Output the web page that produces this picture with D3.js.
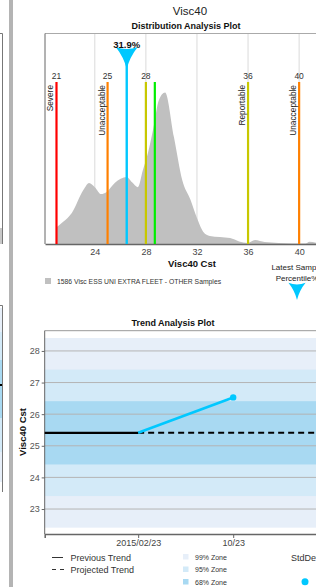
<!DOCTYPE html>
<html>
<head>
<meta charset="utf-8">
<script src="https://cdn.jsdelivr.net/npm/d3@7"></script>
<style>
  body { margin: 0; background: #fff; }
  text { font-family: "Liberation Sans", Arial, sans-serif; }
</style>
</head>
<body>
<div id="chart"></div>
<script>
// Datos de la distribución (Visc40 Cst vs densidad relativa)
const distX = [21.0, 21.5, 22.2, 23.1, 23.55, 24.0, 24.5, 24.9, 25.56, 26.5, 26.9, 27.37, 27.76, 28.15,
  28.6, 29.0, 29.5, 30.2, 30.85, 31.5, 32.0, 32.5, 33.0, 34.6, 35.3, 35.96, 36.55, 37.3, 38.4, 40.5, 40.8, 41.5, 43.2];
const distY = [8, 10.4, 14.7, 25.6, 29, 27, 23.7, 24.6, 29, 31.8, 29.4, 27, 35, 43,
  55.5, 68, 72, 50.7, 30.3, 20.9, 12.3, 5.7, 3.8, 2.8, 1.2, 0.5, 1.9, 0.9, 0.5, 0.2, 1.1, 0.5, 0.3];
const distTicks = [24, 28, 32, 36, 40];

// Límites
const limitValues = [21, 25, 28, 28.7, 36, 40];
const limitLabels = ["21", "25", "28", "", "36", "40"];
const limitNames = ["Severe", "Unacceptable", "", "", "Reportable", "Unacceptable"];
const limitColors = ["#ff0000", "#ff8000", "#c8c800", "#00ee00", "#c8c800", "#ff8000"];

const latestValue = 26.5;
const latestPercent = "31.9%";
const sampleLegend = "1586 Visc ESS UNI EXTRA FLEET - OTHER Samples";

// Tendencia
const trendDates = ["2015-02-23", "2015-10-23"];
const trendValues = [25.41, 26.53];
const trendMean = 25.41;
const trendSd = 1.0;
const trendTicks = [23, 24, 25, 26, 27, 28];
const zoneNames = ["99% Zone", "95% Zone", "68% Zone"];
const zoneSigmas = [3, 2, 1];
const zoneColors = ["#e7eff9", "#d3eaf8", "#a8d9f2"];

const W = 316, H = 587;
const svg = d3.select("#chart").append("svg").attr("width", W).attr("height", H);

// Panel izquierdo recortado y separador
svg.append("rect").attr("x", 9).attr("y", 0).attr("width", 4).attr("height", H).attr("fill", "#b4b4b4");
svg.append("path").attr("d", "M0,33.5H2.5V244").attr("fill", "none").attr("stroke", "#777");
svg.append("rect").attr("x", 0).attr("y", 228).attr("width", 2).attr("height", 16).attr("fill", "#c8c8c8");
[[308, 482, 0], [332, 452, 1], [360, 418, 2]].forEach(b => {
  svg.append("rect").attr("x", 0).attr("y", b[0]).attr("width", 2).attr("height", b[1] - b[0]).attr("fill", zoneColors[b[2]]);
});
svg.append("rect").attr("x", 0).attr("y", 384).attr("width", 2.5).attr("height", 2).attr("fill", "#000");
svg.append("path").attr("d", "M0,305.5H2.5V492").attr("fill", "none").attr("stroke", "#777");

// Títulos
svg.append("text").attr("x", 190).attr("y", 15).attr("text-anchor", "middle")
  .attr("font-size", 11.5).attr("fill", "#222").text("Visc40");
svg.append("text").attr("x", 186).attr("y", 28.5).attr("text-anchor", "middle")
  .attr("font-size", 9).attr("font-weight", "bold").attr("fill", "#111").text("Distribution Analysis Plot");

// ---- Gráfico de distribución ----
const dTop = 33.5, dBottom = 244, dLeft = 45, dRight = 340;
const x = d3.scaleLinear().domain([20.1, 43.2]).range([dLeft, dRight]);
const y = d3.scaleLinear().domain([0, 100]).range([dBottom, dTop]);

svg.append("g").selectAll("line").data(distTicks).join("line")
  .attr("x1", d => x(d)).attr("x2", d => x(d)).attr("y1", dTop).attr("y2", dBottom)
  .attr("stroke", "#dadada");

const distData = distX.map((v, i) => [v, distY[i]]);
svg.append("path").datum(distData)
  .attr("fill", "#c0c0c0")
  .attr("d", d3.area().x(d => x(d[0])).y0(dBottom).y1(d => y(d[1])).curve(d3.curveMonotoneX));

// Marco
svg.append("line").attr("x1", dLeft).attr("x2", W).attr("y1", dTop).attr("y2", dTop).attr("stroke", "#aaa");
svg.append("line").attr("x1", dLeft).attr("x2", dLeft).attr("y1", dTop).attr("y2", dBottom).attr("stroke", "#666");

const xAxis = svg.append("g").attr("transform", `translate(0,${dBottom})`)
  .call(d3.axisBottom(x).tickValues(distTicks).tickSize(0).tickPadding(5).tickFormat(d3.format("d")));
xAxis.select(".domain").attr("stroke", "#666").attr("stroke-width", 1.5);
xAxis.selectAll("text").attr("font-size", 9).attr("fill", "#444")
  .style("font-family", "Liberation Sans, Arial, sans-serif");

svg.append("text").attr("x", 192).attr("y", 266.5).attr("text-anchor", "middle")
  .attr("font-size", 9.5).attr("font-weight", "bold").attr("fill", "#111").text("Visc40 Cst");

// Líneas de límite
const limTop = 82;
limitValues.forEach((v, i) => {
  svg.append("line").attr("x1", x(v)).attr("x2", x(v)).attr("y1", limTop).attr("y2", dBottom)
    .attr("stroke", limitColors[i]).attr("stroke-width", 2.2);
  if (limitLabels[i]) {
    svg.append("text").attr("x", x(v)).attr("y", 78.5).attr("text-anchor", "middle")
      .attr("font-size", 8.5).attr("fill", "#333").text(limitLabels[i]);
  }
  if (limitNames[i]) {
    svg.append("text").attr("transform", `translate(${x(v) - 3},${limTop + 3}) rotate(-90)`)
      .attr("text-anchor", "end").attr("font-size", 8.3).attr("fill", "#222").text(limitNames[i]);
  }
});

// Flecha (forma de chevron)
function arrowPath(s) {
  const p = d3.path();
  p.moveTo(-11 * s, -22 * s);
  p.quadraticCurveTo(0, -18 * s, 11 * s, -22 * s);
  p.quadraticCurveTo(3 * s, -12 * s, 0, 0);
  p.quadraticCurveTo(-3 * s, -12 * s, -11 * s, -22 * s);
  p.closePath();
  return p.toString();
}

svg.append("line").attr("x1", x(latestValue)).attr("x2", x(latestValue)).attr("y1", 60).attr("y2", dBottom)
  .attr("stroke", "#00c8ff").attr("stroke-width", 2.4);
svg.append("path").attr("d", arrowPath(1)).attr("transform", `translate(${x(latestValue)},69)`).attr("fill", "#00c8ff");
svg.append("text").attr("x", x(latestValue)).attr("y", 47.5).attr("text-anchor", "middle")
  .attr("font-size", 9.5).attr("font-weight", "bold").attr("fill", "#111").text(latestPercent);

// Leyenda de la distribución
svg.append("rect").attr("x", 45).attr("y", 278).attr("width", 6).attr("height", 6).attr("fill", "#c0c0c0");
svg.append("text").attr("x", 57).attr("y", 284).attr("font-size", 6.8).attr("fill", "#333")
  .text(sampleLegend);

svg.append("text").attr("x", 297).attr("y", 270).attr("text-anchor", "middle")
  .attr("font-size", 8).attr("fill", "#222").text("Latest Sample");
svg.append("text").attr("x", 297).attr("y", 280.5).attr("text-anchor", "middle")
  .attr("font-size", 8).attr("fill", "#222").text("Percentile%");
svg.append("path").attr("d", arrowPath(0.78)).attr("transform", "translate(297,300)").attr("fill", "#00c8ff");

// ---- Gráfico de tendencia ----
svg.append("text").attr("x", 173).attr("y", 325.5).attr("text-anchor", "middle")
  .attr("font-size", 9).attr("font-weight", "bold").attr("fill", "#111").text("Trend Analysis Plot");

const tTop = 330.7, tBottom = 534, tLeft = 44.7, tRight = 340;
const parse = d3.utcParse("%Y-%m-%d");
const dates = trendDates.map(parse);
const tx = d3.scaleUtc().domain([parse("2014-06-30"), parse("2016-07-21")]).range([tLeft, tRight]);
const ty = d3.scaleLinear().domain([22.21, 28.64]).range([tBottom, tTop]);

zoneSigmas.forEach((s, i) => {
  svg.append("rect").attr("x", tLeft).attr("width", tRight - tLeft)
    .attr("y", ty(trendMean + s * trendSd))
    .attr("height", ty(trendMean - s * trendSd) - ty(trendMean + s * trendSd))
    .attr("fill", zoneColors[i]);
});

svg.append("g").selectAll("line").data(trendTicks).join("line")
  .attr("x1", tLeft).attr("x2", tRight).attr("y1", d => ty(d)).attr("y2", d => ty(d))
  .attr("stroke", "#b4b4b4");

const yAxisT = svg.append("g").attr("transform", `translate(${tLeft},0)`)
  .call(d3.axisLeft(ty).tickValues(trendTicks).tickSize(3).tickPadding(2).tickFormat(d3.format("d")));
yAxisT.select(".domain").remove();
yAxisT.selectAll("line").attr("stroke", "#666");
yAxisT.selectAll("text").attr("font-size", 9).attr("fill", "#555")
  .style("font-family", "Liberation Sans, Arial, sans-serif");

svg.append("line").attr("x1", tLeft).attr("x2", W).attr("y1", tTop).attr("y2", tTop).attr("stroke", "#999");
svg.append("line").attr("x1", tLeft).attr("x2", tLeft).attr("y1", tTop).attr("y2", tBottom).attr("stroke", "#666");

const fmtFull = d3.utcFormat("%Y/%m/%d"), fmtShort = d3.utcFormat("%m/%d");
const xAxisT = svg.append("g").attr("transform", `translate(0,${tBottom})`)
  .call(d3.axisBottom(tx).tickValues(dates).tickSize(4).tickPadding(2)
    .tickFormat((d, i) => i === 0 ? fmtFull(d) : fmtShort(d)));
xAxisT.select(".domain").attr("stroke", "#666").attr("stroke-width", 1.5);
xAxisT.selectAll("line").attr("stroke", "#666");
xAxisT.selectAll("text").attr("font-size", 9).attr("fill", "#444")
  .style("font-family", "Liberation Sans, Arial, sans-serif");

svg.append("text").attr("transform", `translate(26,432) rotate(-90)`).attr("text-anchor", "middle")
  .attr("font-size", 9.5).attr("font-weight", "bold").attr("fill", "#111").text("Visc40 Cst");

// Tendencia previa y proyectada
const dom = tx.domain();
svg.append("line").attr("x1", tx(dom[0])).attr("x2", tx(dates[0]))
  .attr("y1", ty(trendMean)).attr("y2", ty(trendMean)).attr("stroke", "#000").attr("stroke-width", 2.2);
svg.append("line").attr("x1", tx(dates[0])).attr("x2", tx(dom[1]))
  .attr("y1", ty(trendMean)).attr("y2", ty(trendMean)).attr("stroke", "#000").attr("stroke-width", 2)
  .attr("stroke-dasharray", "6,4");

const trendData = dates.map((d, i) => [d, trendValues[i]]);
svg.append("path").datum(trendData).attr("fill", "none").attr("stroke", "#00c8ff").attr("stroke-width", 2.6)
  .attr("d", d3.line().x(d => tx(d[0])).y(d => ty(d[1])));
svg.append("circle").attr("cx", tx(dates[1])).attr("cy", ty(trendValues[1])).attr("r", 3.2).attr("fill", "#00c8ff");

// Leyenda de tendencia
svg.append("line").attr("x1", 52).attr("x2", 63).attr("y1", 557.5).attr("y2", 557.5).attr("stroke", "#333");
svg.append("text").attr("x", 70.5).attr("y", 560.5).attr("font-size", 9).attr("fill", "#333").text("Previous Trend");
svg.append("line").attr("x1", 52).attr("x2", 64).attr("y1", 569.5).attr("y2", 569.5).attr("stroke", "#333")
  .attr("stroke-dasharray", "4,4");
svg.append("text").attr("x", 70.5).attr("y", 572.5).attr("font-size", 9).attr("fill", "#333").text("Projected Trend");

zoneNames.forEach((n, i) => {
  const yy = 554 + i * 12.5;
  svg.append("rect").attr("x", 183).attr("y", yy).attr("width", 5.5).attr("height", 5.5).attr("fill", zoneColors[i]);
  svg.append("text").attr("x", 195).attr("y", yy + 5.5).attr("font-size", 7).attr("fill", "#333").text(n);
});

svg.append("text").attr("x", 291).attr("y", 560.5).attr("font-size", 9).attr("fill", "#333").text("StdDev");
svg.append("circle").attr("cx", 305).attr("cy", 581.7).attr("r", 3.5).attr("fill", "#00c8ff");
</script>
</body>
</html>
